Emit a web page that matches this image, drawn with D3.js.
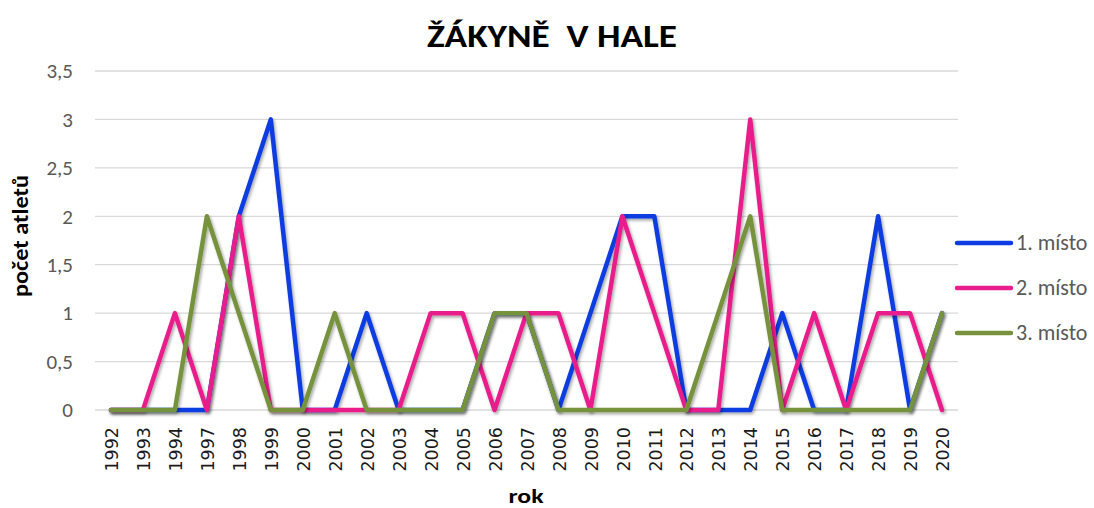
<!DOCTYPE html>
<html>
<head>
<meta charset="utf-8">
<script src="https://cdnjs.cloudflare.com/ajax/libs/d3/7.8.5/d3.min.js"></script>
<style>
  body { margin: 0; background: #fff; }
  svg { font-family: Carlito, "Open Sans", "Liberation Sans", sans-serif; }
</style>
</head>
<body>
<div id="chart"></div>
<script>
var years = ['1992','1993','1994','1997','1998','1999','2000','2001','2002','2003','2004','2005','2006','2007',
    '2008','2009','2010','2011','2012','2013','2014','2015','2016','2017','2018','2019','2020'];
var prvni = [0,0,0,0,2,3,0,0,1,0,0,0,1,1,0,1,2,2,0,0,0,1,0,0,2,0,1];
var druhe = [0,0,1,0,2,0,0,0,0,0,1,1,0,1,1,0,2,1,0,0,3,0,1,0,1,1,0];
var treti = [0,0,0,2,1,0,0,1,0,0,0,0,1,1,0,0,0,0,0,1,2,0,0,0,0,0,1];
var seriesNames = ['1. místo', '2. místo', '3. místo'];
var yTicks = [0, 0.5, 1, 1.5, 2, 2.5, 3, 3.5];

var width = 1094, height = 508;
var margin = {top: 71, right: 136, bottom: 98, left: 95};
var w = width - margin.left - margin.right,
    h = height - margin.top - margin.bottom;
var colors = ['#0d3de0', '#e91e8c', '#76923c'];
var fmt = function (d) { return String(d).replace('.', ','); };

var svg = d3.select('#chart').append('svg')
    .attr('width', width)
    .attr('height', height);

var defs = svg.append('defs');
var f = defs.append('filter').attr('id', 'shadow')
    .attr('x', '-5%').attr('y', '-5%').attr('width', '110%').attr('height', '120%');
f.append('feDropShadow').attr('dx', 1.5).attr('dy', 2).attr('stdDeviation', 1.5)
    .attr('flood-color', '#000').attr('flood-opacity', 0.35);

var g = svg.append('g').attr('transform', 'translate(' + margin.left + ',' + margin.top + ')');

var x = d3.scalePoint().domain(years).range([0, w]).padding(0.5);
var y = d3.scaleLinear().domain([0, 3.5]).range([h, 0]);

// gridlines
g.append('g').selectAll('line').data(yTicks).enter().append('line')
    .attr('x1', 0).attr('x2', w)
    .attr('y1', function (d) { return y(d); })
    .attr('y2', function (d) { return y(d); })
    .attr('stroke', '#d9d9d9').attr('stroke-width', 1.3);

// y axis
var yAxis = d3.axisLeft(y).tickValues(yTicks).tickFormat(fmt).tickSize(0).tickPadding(22);
g.append('g').call(yAxis)
    .call(function (s) { s.select('.domain').remove(); })
    .selectAll('text')
    .attr('fill', '#595959').style('font-size', '21px')
    .style('font-family', 'Carlito, "Open Sans", sans-serif');

// x axis
var xAxis = d3.axisBottom(x).tickSize(0).tickPadding(0);
g.append('g').attr('transform', 'translate(0,' + h + ')').call(xAxis)
    .call(function (s) { s.select('.domain').remove(); })
    .selectAll('text')
    .attr('fill', '#1a1a1a').style('font-size', '17.5px')
    .style('font-family', '"DejaVu Sans", sans-serif')
    .style('text-anchor', 'end')
    .attr('dx', '-17px').attr('dy', '0.38em')
    .attr('transform', 'rotate(-90)');

// lines
var line = d3.line()
    .x(function (d, i) { return x(years[i]); })
    .y(function (d) { return y(d); });

var data = [prvni, druhe, treti];
g.selectAll('.serie').data(data).enter().append('path')
    .attr('class', 'serie')
    .attr('d', line)
    .attr('fill', 'none')
    .attr('stroke', function (d, i) { return colors[i]; })
    .attr('stroke-width', 4.5)
    .attr('stroke-linejoin', 'round')
    .attr('stroke-linecap', 'round')
    .attr('filter', 'url(#shadow)');

// title
svg.append('text')
    .attr('x', 552).attr('y', 47)
    .attr('text-anchor', 'middle')
    .attr('textLength', 250).attr('lengthAdjust', 'spacingAndGlyphs')
    .style('font-size', '33px').style('font-weight', 'bold')
    .attr('fill', '#000')
    .attr('xml:space', 'preserve')
    .text('ŽÁKYNĚ  V HALE');

// axis titles
svg.append('text')
    .attr('transform', 'translate(28,236) rotate(-90)')
    .attr('text-anchor', 'middle')
    .attr('textLength', 122).attr('lengthAdjust', 'spacingAndGlyphs')
    .style('font-size', '23px').style('font-weight', 'bold')
    .text('počet atletů');

svg.append('text')
    .attr('x', 526).attr('y', 503)
    .attr('text-anchor', 'middle')
    .attr('textLength', 35).attr('lengthAdjust', 'spacingAndGlyphs')
    .style('font-size', '21px').style('font-weight', 'bold')
    .text('rok');

// legend
var legend = svg.append('g').attr('transform', 'translate(957,243)');
var item = legend.selectAll('g').data(seriesNames).enter().append('g')
    .attr('transform', function (d, i) { return 'translate(0,' + (i * 45) + ')'; });
item.append('line')
    .attr('x1', 0).attr('x2', 54).attr('y1', 0).attr('y2', 0)
    .attr('stroke', function (d, i) { return colors[i]; })
    .attr('stroke-width', 4.5).attr('stroke-linecap', 'round');
item.append('text')
    .attr('x', 59).attr('y', 0).attr('dy', '0.33em')
    .attr('fill', '#595959').style('font-size', '22px')
    .text(function (d) { return d; });
</script>
</body>
</html>
